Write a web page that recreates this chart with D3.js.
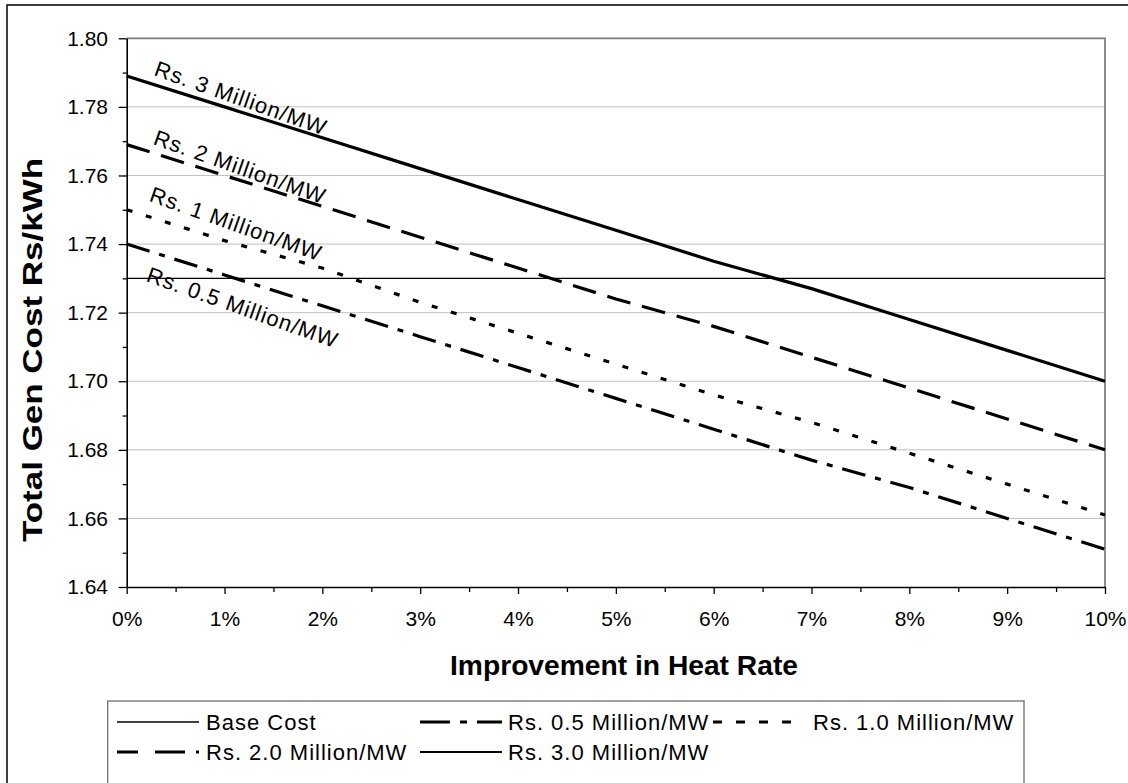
<!DOCTYPE html>
<html><head><meta charset="utf-8">
<script src="https://cdn.jsdelivr.net/npm/d3@7"></script>
<style>html,body{margin:0;padding:0;background:#fff;} svg{display:block;font-family:"Liberation Sans",Arial,sans-serif;}</style>
</head><body><svg id="c" width="1128" height="783"></svg>
<script>
// ---- data ----
const heatRateImprovement = [0,1,2,3,4,5,6,7,8,9,10];
const baseCost = [1.730,1.730,1.730,1.730,1.730,1.730,1.730,1.730,1.730,1.730,1.730];
const rs05 = [1.740,1.731,1.722,1.713,1.704,1.695,1.686,1.677,1.669,1.660,1.651];
const rs10 = [1.750,1.741,1.733,1.723,1.714,1.705,1.696,1.688,1.679,1.670,1.661];
const rs20 = [1.769,1.760,1.751,1.742,1.733,1.724,1.716,1.707,1.698,1.689,1.680];
const rs30 = [1.789,1.780,1.771,1.762,1.753,1.744,1.735,1.727,1.718,1.709,1.700];
const yMajorTicks = [1.64,1.66,1.68,1.70,1.72,1.74,1.76,1.78,1.80];
const yMinorTicks = [1.65,1.67,1.69,1.71,1.73,1.75,1.77,1.79];
const xMajorTicks = [0,1,2,3,4,5,6,7,8,9,10];
const xMinorTicks = [0.5,1.5,2.5,3.5,4.5,5.5,6.5,7.5,8.5,9.5];
const seriesNames = ["Base Cost","Rs. 0.5 Million/MW","Rs. 1.0 Million/MW","Rs. 2.0 Million/MW","Rs. 3.0 Million/MW"];
const lineLabels = ["Rs. 3 Million/MW","Rs. 2 Million/MW","Rs. 1 Million/MW","Rs. 0.5 Million/MW"];
const xTitle = "Improvement in Heat Rate";
const yTitle = "Total Gen Cost Rs/kWh";

// ---- styles / layout ----
const seriesValues = [baseCost, rs05, rs10, rs20, rs30];
const seriesStyle = [
  {w:1.4, dash:null, legW:1.4},
  {w:3.2, dash:"24,10,6,10", legW:3, legDash:"30,10,7,10,30"},
  {w:3.2, dash:"6,14", legW:3, legDash:"9,14"},
  {w:3.2, dash:"24,12", legW:3, legDash:"21,17,30,11"},
  {w:3.2, dash:null, legW:2}
];
// label anchors in data coordinates (x %, y value)
const labelAnchors = [[0.27,1.7893],[0.26,1.7692],[0.22,1.7526],[0.19,1.7292]];
const labelAngle = 19.5;

const svg = d3.select("#c");
const W = 1128, H = 783;
svg.append("rect").attr("width",W).attr("height",H).attr("fill","#fff");
// outer frame
svg.append("rect").attr("x",7).attr("y",5).attr("width",1140).attr("height",820)
  .attr("fill","none").attr("stroke","#000").attr("stroke-width",1.5);

const x = d3.scaleLinear().domain([0,10]).range([126.7,1105]);
const y = d3.scaleLinear().domain([1.64,1.80]).range([587,38.3]);

// gridlines
svg.append("g").selectAll("line").data(yMajorTicks.slice(1)).join("line")
  .attr("x1",x(0)).attr("x2",x(10)).attr("y1",d=>y(d)).attr("y2",d=>y(d))
  .attr("stroke","#c0c0c0").attr("stroke-width",1);
// plot border top/right
svg.append("path").attr("d",`M${x(0)},${y(1.80)}H${x(10)}V${y(1.64)}`)
  .attr("fill","none").attr("stroke","#808080").attr("stroke-width",1.8);

// axes
const fontTick = 21;
const yAxis = d3.axisLeft(y).tickValues(yMajorTicks).tickFormat(d3.format(".2f")).tickSize(8).tickSizeOuter(0).tickPadding(10.7);
const gy = svg.append("g").attr("transform",`translate(${x(0)},0)`).call(yAxis);
gy.selectAll("text").attr("font-size",fontTick).attr("fill","#000").attr("font-family","Liberation Sans, Arial, sans-serif");
gy.selectAll("line").attr("stroke","#000").attr("stroke-width",1.3);
gy.select(".domain").attr("stroke","#000").attr("stroke-width",1.6);
const yMinor = d3.axisLeft(y).tickValues(yMinorTicks).tickFormat("").tickSize(4).tickSizeOuter(0);
const gym = svg.append("g").attr("transform",`translate(${x(0)},0)`).call(yMinor);
gym.select(".domain").remove();
gym.selectAll("line").attr("stroke","#000").attr("stroke-width",1.3);

const xAxis = d3.axisBottom(x).tickValues(xMajorTicks).tickFormat(d=>d+"%").tickSize(7).tickSizeOuter(0).tickPadding(17);
const gx = svg.append("g").attr("transform",`translate(0,${y(1.64)})`).call(xAxis);
gx.selectAll("text").attr("font-size",fontTick).attr("fill","#000").attr("font-family","Liberation Sans, Arial, sans-serif");
gx.selectAll("line").attr("stroke","#000").attr("stroke-width",1.3);
gx.select(".domain").attr("stroke","#000").attr("stroke-width",1.6);
const xMinor = d3.axisBottom(x).tickValues(xMinorTicks).tickFormat("").tickSize(5).tickSizeOuter(0);
const gxm = svg.append("g").attr("transform",`translate(0,${y(1.64)})`).call(xMinor);
gxm.select(".domain").remove();
gxm.selectAll("line").attr("stroke","#000").attr("stroke-width",1.3);

// series lines
const line = d3.line().x((d,i)=>x(heatRateImprovement[i])).y(d=>y(d));
seriesValues.forEach((vals,i)=>{
  const p = svg.append("path").attr("d",line(vals)).attr("fill","none")
    .attr("stroke","#000").attr("stroke-width",seriesStyle[i].w);
  if (seriesStyle[i].dash) p.attr("stroke-dasharray",seriesStyle[i].dash);
});

// in-plot labels
lineLabels.forEach((t,i)=>{
  const a = labelAnchors[i];
  svg.append("text").attr("transform",`translate(${x(a[0])},${y(a[1])}) rotate(${labelAngle})`)
    .attr("font-size",22).attr("letter-spacing",1).attr("fill","#000").text(t);
});

// axis titles
svg.append("text").attr("x",624).attr("y",675).attr("text-anchor","middle")
  .attr("font-size",28).attr("font-weight","bold").attr("textLength",348).attr("lengthAdjust","spacingAndGlyphs").text(xTitle);
svg.append("text").attr("transform","translate(42,350) rotate(-90)").attr("text-anchor","middle")
  .attr("font-size",28).attr("font-weight","bold").attr("textLength",384).attr("lengthAdjust","spacingAndGlyphs").text(yTitle);

// legend
svg.append("rect").attr("x",107.7).attr("y",701).attr("width",916.3).attr("height",120)
  .attr("fill","#fff").attr("stroke","#707070").attr("stroke-width",1.3);
const legCols = [{s:117,t:206},{s:420,t:508},{s:713,t:813}];
const legRows = [722,752];
const legLen = 82;
seriesNames.forEach((n,i)=>{
  const c = legCols[i%3], r = legRows[Math.floor(i/3)];
  const l = svg.append("line").attr("x1",c.s).attr("x2",c.s+legLen).attr("y1",r).attr("y2",r)
    .attr("stroke","#000").attr("stroke-width",seriesStyle[i].legW);
  if (seriesStyle[i].legDash) l.attr("stroke-dasharray",seriesStyle[i].legDash);
  svg.append("text").attr("x",c.t).attr("y",r+8).attr("font-size",22).attr("letter-spacing",1)
    .attr("fill","#000").text(n);
});
</script></body></html>
